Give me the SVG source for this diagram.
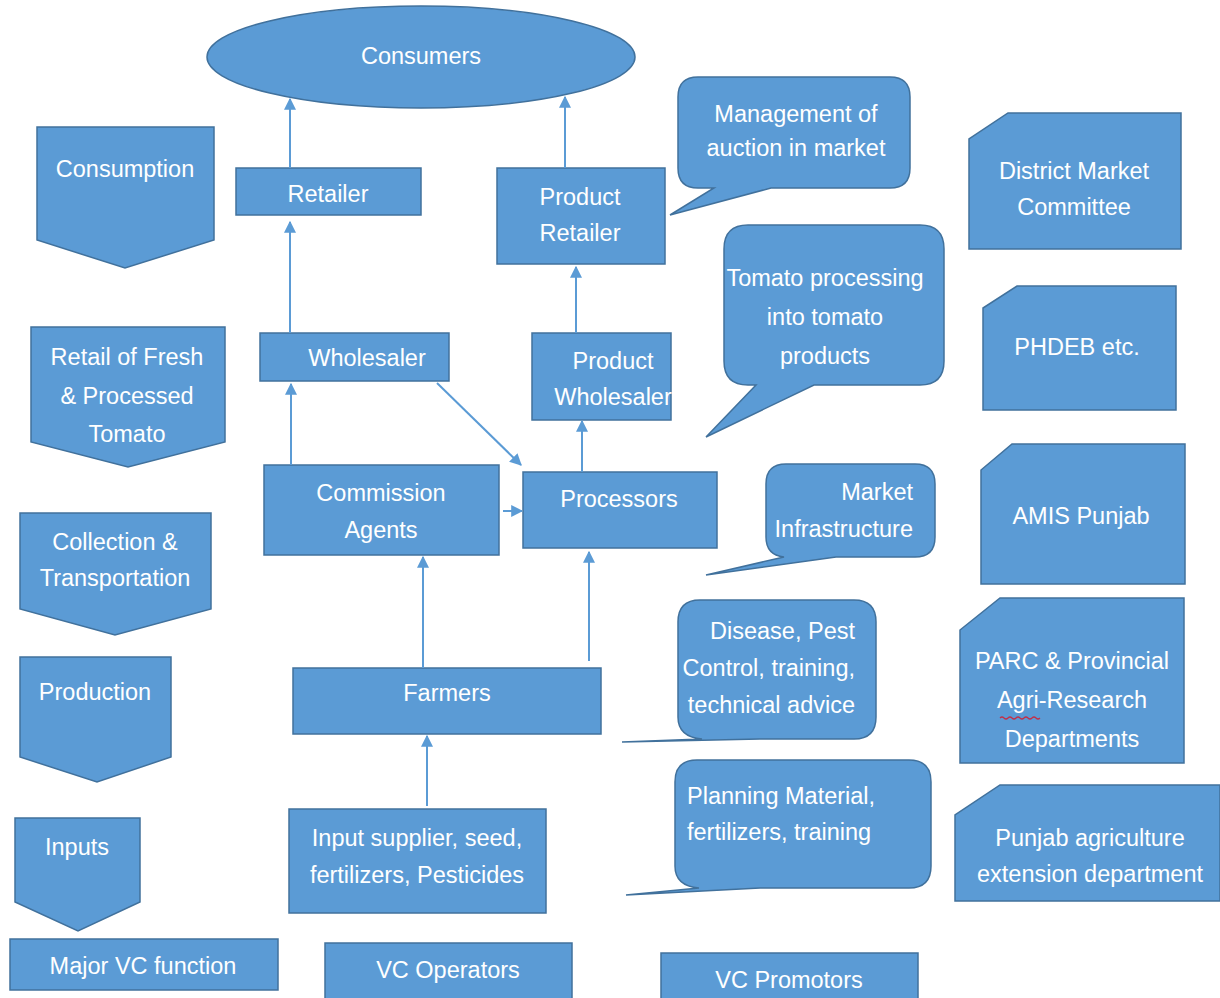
<svg xmlns="http://www.w3.org/2000/svg" width="1220" height="998" viewBox="0 0 1220 998">
<style>
.s{fill:#5b9bd5;stroke:#41719c;stroke-width:1.5}
.t{fill:#ffffff;font-family:"Liberation Sans",Arial,sans-serif;font-size:23.5px;text-anchor:middle;dominant-baseline:central}
.r{text-anchor:end}
.l{text-anchor:start}
.c{stroke:#5b9bd5;stroke-width:2;fill:none;marker-end:url(#ah)}
</style>
<defs>
<marker id="ah" viewBox="0 0 10 10" refX="9" refY="5" markerWidth="6" markerHeight="6" markerUnits="strokeWidth" orient="auto">
<path d="M0,0 L10,5 L0,10 Z" fill="#5b9bd5"/>
</marker>
</defs>
<rect width="1220" height="998" fill="#ffffff"/>

<g id="consumers"><ellipse class="s" cx="421" cy="57" rx="214" ry="51"/><text class="t" x="421" y="56">Consumers</text></g>

<g id="consumption"><path class="s" d="M37,127 H214 V240 L125,268 L37,240 Z"/><text class="t" x="125" y="169">Consumption</text></g>
<g id="retail-fresh"><path class="s" d="M31,327 H225 V442 L128,467 L31,442 Z"/><text class="t" x="127" y="357">Retail of Fresh</text><text class="t" x="127" y="396">&amp; Processed</text><text class="t" x="127" y="434">Tomato</text></g>
<g id="collection"><path class="s" d="M20,513 H211 V609 L115,635 L20,609 Z"/><text class="t" x="115" y="542">Collection &amp;</text><text class="t" x="115" y="578">Transportation</text></g>
<g id="production"><path class="s" d="M20,657 H171 V757 L97,782 L20,757 Z"/><text class="t" x="95" y="692">Production</text></g>
<g id="inputs"><path class="s" d="M15,818 H140 V902 L78,931 L15,902 Z"/><text class="t" x="77" y="847">Inputs</text></g>
<g id="major-vc"><rect class="s" x="10" y="939" width="268" height="51"/><text class="t" x="143" y="966">Major VC function</text></g>

<g id="retailer"><rect class="s" x="236" y="168" width="185" height="47"/><text class="t" x="328" y="194">Retailer</text></g>
<g id="product-retailer"><rect class="s" x="497" y="168" width="168" height="96"/><text class="t" x="580" y="197">Product</text><text class="t" x="580" y="233">Retailer</text></g>
<g id="wholesaler"><rect class="s" x="260" y="333" width="189" height="48"/><text class="t" x="367" y="358">Wholesaler</text></g>
<g id="product-wholesaler"><rect class="s" x="532" y="333" width="139" height="87"/><text class="t" x="613" y="361">Product</text><text class="t" x="613" y="397">Wholesaler</text></g>
<g id="commission"><rect class="s" x="264" y="465" width="235" height="90"/><text class="t" x="381" y="493">Commission</text><text class="t" x="381" y="530">Agents</text></g>
<g id="processors"><rect class="s" x="523" y="472" width="194" height="76"/><text class="t" x="619" y="499">Processors</text></g>
<g id="farmers"><rect class="s" x="293" y="668" width="308" height="66"/><text class="t" x="447" y="693">Farmers</text></g>
<g id="input-supplier"><rect class="s" x="289" y="809" width="257" height="104"/><text class="t" x="417" y="838">Input supplier, seed,</text><text class="t" x="417" y="875">fertilizers, Pesticides</text></g>
<g id="vc-operators"><rect class="s" x="325" y="943" width="247" height="60"/><text class="t" x="448" y="970">VC Operators</text></g>
<g id="vc-promotors"><rect class="s" x="661" y="953" width="257" height="50"/><text class="t" x="789" y="980">VC Promotors</text></g>

<g id="callout-auction"><path class="s" d="M698,77 H890 Q910,77 910,97 V168 Q910,188 890,188 H771 L670,215 L714,188 H698 Q678,188 678,168 V97 Q678,77 698,77 Z"/><text class="t" x="796" y="114">Management of</text><text class="t" x="796" y="148">auction in market</text></g>
<g id="callout-processing"><path class="s" d="M748,225 H920 Q944,225 944,249 V361 Q944,385 920,385 H814 L706,437 L756,385 H748 Q724,385 724,361 V249 Q724,225 748,225 Z"/><text class="t" x="825" y="278">Tomato processing</text><text class="t" x="825" y="317">into tomato</text><text class="t" x="825" y="356">products</text></g>
<g id="callout-infra"><path class="s" d="M786,464 H915 Q935,464 935,484 V537 Q935,557 915,557 H836 L706,575 L784,557 Q766,555 766,537 V484 Q766,464 786,464 Z"/><text class="t r" x="913" y="492">Market</text><text class="t r" x="913" y="529">Infrastructure</text></g>
<g id="callout-disease"><path class="s" d="M700,600 H854 Q876,600 876,622 V717 Q876,739 854,739 H760 L622,742 L702,739 Q678,737 678,717 V622 Q678,600 700,600 Z"/><text class="t r" x="855" y="631">Disease, Pest</text><text class="t r" x="855" y="668">Control, training,</text><text class="t r" x="855" y="705">technical advice</text></g>
<g id="callout-planning"><path class="s" d="M697,760 H909 Q931,760 931,782 V866 Q931,888 909,888 H760 L626,895 L699,888 Q675,886 675,866 V782 Q675,760 697,760 Z"/><text class="t l" x="687" y="796">Planning Material,</text><text class="t l" x="687" y="832">fertilizers, training</text></g>

<g id="district"><path class="s" d="M1008,113 H1181 V249 H969 V139 Z"/><text class="t" x="1074" y="171">District Market</text><text class="t" x="1074" y="207">Committee</text></g>
<g id="phdeb"><path class="s" d="M1017,286 H1176 V410 H983 V308 Z"/><text class="t" x="1077" y="347">PHDEB etc.</text></g>
<g id="amis"><path class="s" d="M1012,444 H1185 V584 H981 V470 Z"/><text class="t" x="1081" y="516">AMIS Punjab</text></g>
<g id="parc"><path class="s" d="M1000,598 H1184 V763 H960 V630 Z"/><text class="t" x="1072" y="661">PARC &amp; Provincial</text><text class="t" x="1072" y="700">Agri-Research</text><text class="t" x="1072" y="739">Departments</text><path d="M1000,718 q2,-2 4,0 t4,0 t4,0 t4,0 t4,0 t4,0 t4,0 t4,0 t4,0 t4,0" stroke="#c0304a" stroke-width="1.2" fill="none"/></g>
<g id="punjab-ext"><path class="s" d="M1000,785 H1220 V901 H955 V815 Z"/><text class="t" x="1090" y="838">Punjab agriculture</text><text class="t" x="1090" y="874">extension department</text></g>

<g id="connectors">
<line class="c" x1="290" y1="168" x2="290" y2="99"/>
<line class="c" x1="565" y1="168" x2="565" y2="97"/>
<line class="c" x1="290" y1="333" x2="290" y2="222"/>
<line class="c" x1="576" y1="333" x2="576" y2="267"/>
<line class="c" x1="291" y1="465" x2="291" y2="384"/>
<line class="c" x1="437" y1="383" x2="521" y2="465"/>
<line class="c" x1="503" y1="511" x2="522" y2="511"/>
<line class="c" x1="582" y1="472" x2="582" y2="421"/>
<line class="c" x1="423" y1="668" x2="423" y2="557"/>
<line class="c" x1="589" y1="661" x2="589" y2="552"/>
<line class="c" x1="427" y1="806" x2="427" y2="736"/>
</g>
</svg>
